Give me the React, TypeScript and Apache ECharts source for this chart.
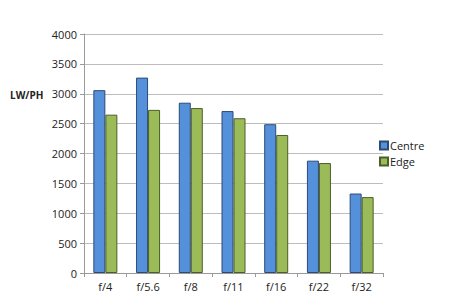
import React, { useEffect, useRef } from "react";
import * as echarts from "echarts";

const categories = ["f/4", "f/5.6", "f/8", "f/11", "f/16", "f/22", "f/32"];
const centre = [3060, 3270, 2850, 2710, 2490, 1880, 1330];
const edge = [2650, 2730, 2760, 2590, 2310, 1840, 1270];

export default function App() {
  const ref = useRef<HTMLDivElement>(null);
  useEffect(() => {
    const chart = echarts.init(ref.current!, null, { renderer: "svg" });
    const font = "Open Sans, Liberation Sans, sans-serif";
    chart.setOption({
      animation: false,
      backgroundColor: "#ffffff",
      textStyle: { fontFamily: font },
      grid: { left: 84, right: 67, top: 34, bottom: 35, containLabel: false },
      legend: {
        orient: "vertical",
        left: 374,
        top: 135,
        itemWidth: 8,
        itemHeight: 8,
        itemGap: 5,
        icon: "rect",
        textStyle: { fontSize: 11, color: "#222", fontFamily: font, padding: [0, 0, 0, -3] },
        data: ["Centre", "Edge"],
      },
      graphic: [
        {
          type: "text",
          left: 10,
          top: 90,
          style: { text: "LW/PH", font: `bold 10px ${font}`, fill: "#222" },
        },
      ],
      xAxis: {
        type: "category",
        data: categories,
        axisLine: { lineStyle: { color: "#9a9a9a" } },
        axisTick: { show: true, length: 4, lineStyle: { color: "#9a9a9a" } },
        axisLabel: { fontSize: 11, color: "#222", margin: 8 },
      },
      yAxis: {
        type: "value",
        min: 0,
        max: 4000,
        interval: 500,
        axisLine: { show: true, lineStyle: { color: "#9a9a9a" } },
        axisTick: { show: true, length: 4, lineStyle: { color: "#9a9a9a" } },
        axisLabel: { fontSize: 11, color: "#222", margin: 7, formatter: (v: number) => String(v) },
        splitLine: { lineStyle: { color: "#bdbdbd" } },
      },
      series: [
        {
          name: "Centre",
          type: "bar",
          data: centre,
          barWidth: 12,
          barGap: "0%",
          itemStyle: { color: "#5590DA", borderColor: "#2c4a74", borderWidth: 1 },
        },
        {
          name: "Edge",
          type: "bar",
          data: edge,
          barWidth: 12,
          barGap: "0%",
          itemStyle: { color: "#9BBB59", borderColor: "#4a5e2a", borderWidth: 1 },
        },
      ],
    });
    return () => chart.dispose();
  }, []);
  return <div ref={ref} style={{ width: 450, height: 308, position: "absolute", left: 0, top: 0 }} />;
}
